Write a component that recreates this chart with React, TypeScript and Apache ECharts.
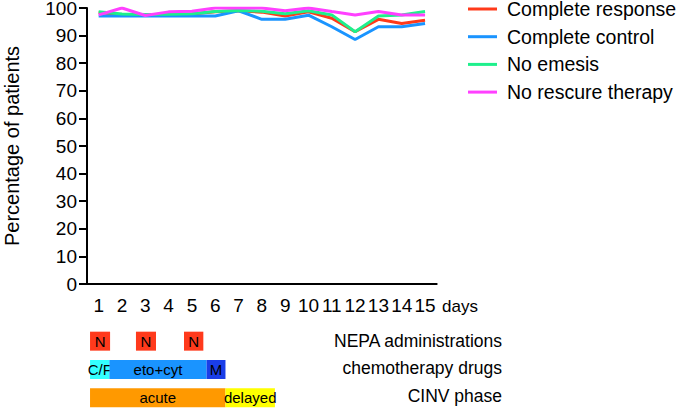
import React, { useEffect, useRef } from "react";
import * as echarts from "echarts";

const days = ["1", "2", "3", "4", "5", "6", "7", "8", "9", "10", "11", "12", "13", "14", "15"];
const completeResponse = [98.4, 97.6, 97.5, 97.6, 97.8, 98.6, 99, 98.5, 97.1, 98.6, 96.3, 91.4, 95.9, 94.4, 95.6];
const completeControl = [97.1, 97.1, 97.1, 97.1, 97.1, 97.1, 99, 95.9, 95.9, 97.4, 93.2, 88.6, 93.2, 93.2, 94.4];
const noEmesis = [98.6, 97.8, 97.6, 97.7, 97.9, 98.7, 99.1, 98.8, 97.9, 99, 97.5, 91.4, 97.1, 97.5, 98.7];
const noRescue = [97.5, 100, 97.3, 98.6, 98.8, 100, 100, 100, 99, 100, 98.7, 97.5, 98.7, 97.5, 97.5];

const rowLabels = ["NEPA administrations", "chemotherapy drugs", "CINV phase"];
// [start day, end day, row index, label]
const annotationBoxes: [number, number, number, string][] = [
  [0.63, 1.49, 0, "N"],
  [2.6, 3.46, 0, "N"],
  [4.66, 5.49, 0, "N"],
  [0.63, 1.46, 1, "C/F"],
  [1.46, 5.63, 1, "eto+cyt"],
  [5.63, 6.44, 1, "M"],
  [0.63, 6.44, 2, "acute"],
  [6.44, 8.56, 2, "delayed"],
];

const boxColors: Record<string, string> = {
  N: "#ff3a1c",
  "C/F": "#33ffff",
  "eto+cyt": "#1a94ff",
  M: "#1a3ee8",
  acute: "#ff9900",
  delayed: "#ffff00",
};

const FONT = "'Liberation Sans', Arial, Helvetica, sans-serif";

export default function App() {
  const ref = useRef<HTMLDivElement>(null);
  useEffect(() => {
    if (!ref.current) return;
    const chart = echarts.init(ref.current, undefined, { renderer: "svg" });
    const lineSeries = (name: string, data: number[], color: string) => ({
      name,
      type: "line",
      data,
      xAxisIndex: 0,
      yAxisIndex: 0,
      symbol: "none",
      lineStyle: { color, width: 3 },
      itemStyle: { color },
    });
    chart.setOption({
      animation: false,
      textStyle: { fontFamily: FONT },
      legend: {
        orient: "vertical",
        left: 468,
        top: -1,
        padding: 0,
        icon: "rect",
        itemWidth: 29,
        itemHeight: 3,
        itemGap: 7.7,
        textStyle: { fontSize: 19.5, color: "#000", fontFamily: FONT, lineHeight: 20, padding: [0, 0, 0, 5] },
        data: ["Complete response", "Complete control", "No emesis", "No rescure therapy"],
      },
      grid: [
        { left: 87, right: 248.3, top: 8, bottom: 125, outerBoundsMode: "none", containLabel: false },
        { left: 87, right: 248.3, top: 327, height: 85, outerBoundsMode: "none", containLabel: false },
      ],
      xAxis: [
        {
          type: "category",
          gridIndex: 0,
          data: days,
          boundaryGap: true,
          axisLine: { lineStyle: { color: "#000", width: 2 } },
          axisTick: { alignWithLabel: true, length: 8, lineStyle: { color: "#000", width: 2 } },
          axisLabel: { color: "#000", fontSize: 19, margin: 12, fontFamily: FONT, interval: 0 },
          splitLine: { show: false },
        },
        {
          type: "value",
          gridIndex: 1,
          min: 0.5,
          max: 15.5,
          show: false,
        },
      ],
      yAxis: [
        {
          type: "value",
          gridIndex: 0,
          min: 0,
          max: 100,
          interval: 10,
          name: "Percentage of patients",
          nameLocation: "middle",
          nameRotate: 90,
          nameGap: 65,
          nameTextStyle: { fontSize: 20, color: "#000", fontFamily: FONT },
          axisLine: { show: true, lineStyle: { color: "#000", width: 2 } },
          axisTick: { show: true, length: 8, lineStyle: { color: "#000", width: 2 } },
          axisLabel: { color: "#000", fontSize: 19, lineHeight: 16, margin: 10, fontFamily: FONT },
          splitLine: { show: false },
        },
        {
          type: "category",
          gridIndex: 1,
          data: rowLabels,
          inverse: true,
          show: false,
        },
      ],
      graphic: [
        { type: "text", left: 442, top: 298, style: { text: "days", fontSize: 17, fill: "#000", fontFamily: FONT } },
        ...rowLabels.map((t, i) => ({
          type: "text",
          x: 502,
          y: [341, 368, 396][i],
          style: { text: t, fontSize: 17.5, fill: "#000", fontFamily: FONT, align: "right", verticalAlign: "middle" },
        })),
      ],
      series: [
        lineSeries("Complete response", completeResponse, "#ff3a1a"),
        lineSeries("Complete control", completeControl, "#1a94ff"),
        lineSeries("No emesis", noEmesis, "#1ef08c"),
        lineSeries("No rescure therapy", noRescue, "#ff40ff"),
        {
          type: "custom",
          xAxisIndex: 1,
          yAxisIndex: 1,
          data: annotationBoxes,
          encode: { x: [0, 1], y: 2 },
          renderItem: (params: any, api: any) => {
            const idx = params.dataIndex;
            const item = annotationBoxes[idx];
            const p0 = api.coord([api.value(0), api.value(2)]);
            const p1 = api.coord([api.value(1), api.value(2)]);
            const band = api.size([0, 1])[1];
            const h = band * 0.67;
            const label = item[3];
            return {
              type: "group",
              children: [
                {
                  type: "rect",
                  shape: { x: p0[0], y: p0[1] - h / 2, width: p1[0] - p0[0], height: h },
                  style: { fill: boxColors[label] },
                },
                {
                  type: "text",
                  x: (p0[0] + p1[0]) / 2,
                  y: p0[1],
                  style: {
                    text: label,
                    fontSize: 15,
                    fill: "#000",
                    fontFamily: FONT,
                    align: "center",
                    verticalAlign: "middle",
                  },
                },
              ],
            };
          },
        },
      ],
    });
    return () => chart.dispose();
  }, []);
  return <div ref={ref} style={{ width: 685, height: 409, position: "absolute", left: 0, top: 0 }} />;
}
